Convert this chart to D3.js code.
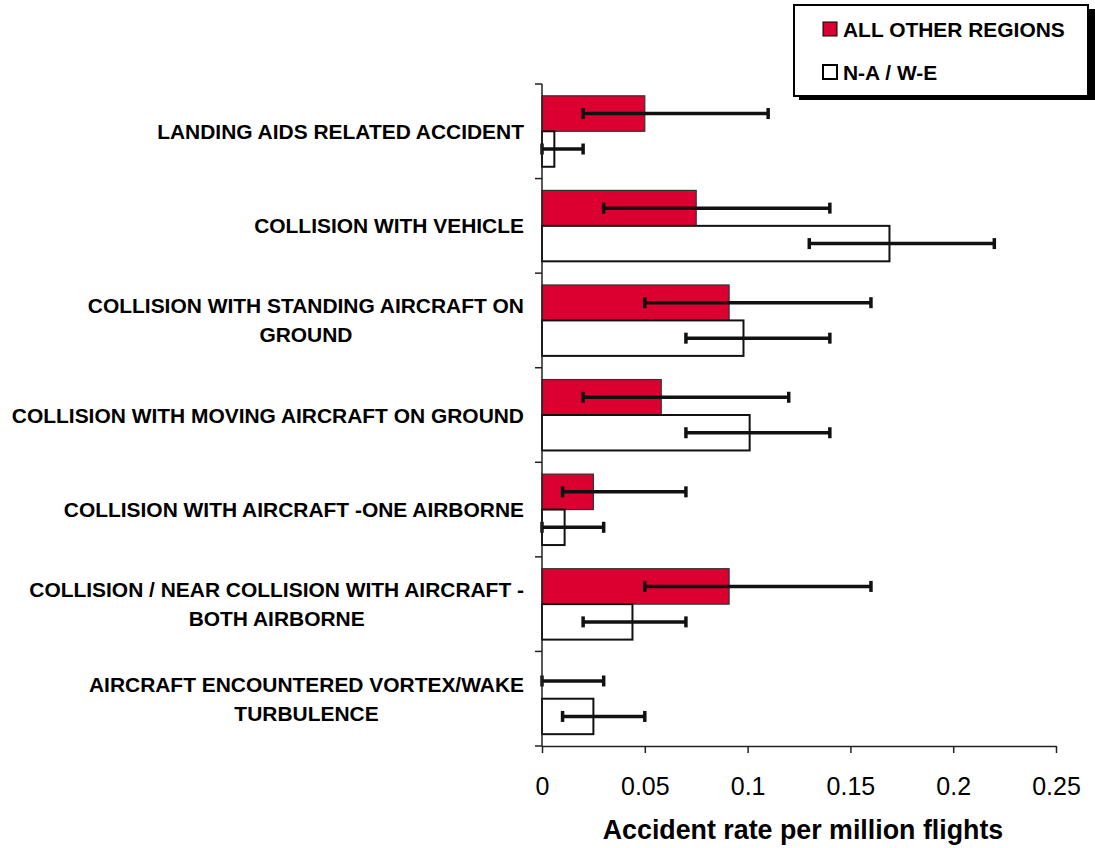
<!DOCTYPE html>
<html>
<head>
<meta charset="utf-8">
<script src="https://cdn.jsdelivr.net/npm/d3@7"></script>
<style>
  html, body { margin: 0; padding: 0; background: #fff; }
  svg { display: block; font-family: "Liberation Sans", Arial, sans-serif; }
</style>
</head>
<body>
<svg id="chart" width="1095" height="848"></svg>
<script>
// Accident categories (line breaks mark wrapped labels)
const categories = [
  "LANDING AIDS RELATED ACCIDENT",
  "COLLISION WITH VEHICLE",
  "COLLISION WITH STANDING AIRCRAFT ON\nGROUND",
  "COLLISION WITH MOVING AIRCRAFT ON GROUND",
  "COLLISION WITH AIRCRAFT -ONE AIRBORNE",
  "COLLISION / NEAR COLLISION WITH AIRCRAFT -\nBOTH AIRBORNE",
  "AIRCRAFT ENCOUNTERED VORTEX/WAKE\nTURBULENCE"
];

const seriesNames = ["ALL OTHER REGIONS", "N-A / W-E"];

// Accident rate per million flights, with lower / upper error limits
const otherRegions     = [0.050, 0.075, 0.091, 0.058, 0.025, 0.091, 0.000];
const otherRegionsLow  = [0.020, 0.030, 0.050, 0.020, 0.010, 0.050, 0.000];
const otherRegionsHigh = [0.110, 0.140, 0.160, 0.120, 0.070, 0.160, 0.030];

const naWe     = [0.006, 0.169, 0.098, 0.101, 0.011, 0.044, 0.025];
const naWeLow  = [0.000, 0.130, 0.070, 0.070, 0.000, 0.020, 0.010];
const naWeHigh = [0.020, 0.220, 0.140, 0.140, 0.030, 0.070, 0.050];

const xTicks = [0, 0.05, 0.1, 0.15, 0.2, 0.25];
const xTickLabels = ["0", "0.05", "0.1", "0.15", "0.2", "0.25"];
const xTitle = "Accident rate per million flights";

const RED = "#dc0030";
const INK = "#111";
const LABEL_SIZE = 20.95;

const rows = categories.map((c, i) => ({
  cat: c,
  bars: [
    { key: seriesNames[0], v: otherRegions[i], lo: otherRegionsLow[i], hi: otherRegionsHigh[i] },
    { key: seriesNames[1], v: naWe[i], lo: naWeLow[i], hi: naWeHigh[i] }
  ]
}));

const svg = d3.select("#chart");

const x = d3.scaleLinear().domain([0, 0.25]).range([542, 1056]);
const y = d3.scaleBand().domain(categories).range([84, 746])
  .paddingInner(0.25).paddingOuter(0.125);
const ySub = d3.scaleBand().domain(seriesNames).range([0, y.bandwidth()]);

const plotBottom = 746, plotTop = 84;

// Bars
const groups = svg.append("g").selectAll("g").data(rows).join("g")
  .attr("transform", d => `translate(0,${y(d.cat)})`);

groups.selectAll("rect").data(d => d.bars).join("rect")
  .attr("x", x(0))
  .attr("y", d => ySub(d.key))
  .attr("width", d => x(d.v) - x(0))
  .attr("height", ySub.bandwidth())
  .attr("fill", d => d.key === seriesNames[0] ? RED : "#fff")
  .attr("stroke", d => d.key === seriesNames[0] ? "#333" : INK)
  .attr("stroke-width", d => d.key === seriesNames[0] ? 1.2 : 2)
  .attr("display", d => d.v > 0 ? null : "none");

// Error bars
const err = groups.selectAll("g.err").data(d => d.bars).join("g").attr("class", "err")
  .attr("transform", d => `translate(0,${ySub(d.key) + ySub.bandwidth() / 2})`);
err.append("line")
  .attr("x1", d => x(d.lo)).attr("x2", d => x(d.hi))
  .attr("stroke", INK).attr("stroke-width", 3.5);
err.selectAll("line.cap").data(d => [d.lo, d.hi]).join("line").attr("class", "cap")
  .attr("x1", v => x(v)).attr("x2", v => x(v))
  .attr("y1", -5.5).attr("y2", 5.5)
  .attr("stroke", INK).attr("stroke-width", 3.5);

// Category axis
const yAxis = svg.append("g");
yAxis.append("line")
  .attr("x1", x(0)).attr("x2", x(0)).attr("y1", plotTop).attr("y2", plotBottom)
  .attr("stroke", "#222").attr("stroke-width", 1.5);
const bounds = categories.map(c => y(c) - y.step() * y.paddingInner() / 2).concat([plotBottom]);
yAxis.selectAll("line.tick").data(bounds).join("line").attr("class", "tick")
  .attr("x1", x(0) - 7).attr("x2", x(0)).attr("y1", d => d).attr("y2", d => d)
  .attr("stroke", "#222").attr("stroke-width", 1.5);

// Category labels: wrapped lines are centred on each other, block right-aligned
const labelRight = 524, lineGap = 29;
categories.forEach(c => {
  const lines = c.split("\n");
  const cy = y(c) + y.bandwidth() / 2;
  const g = svg.append("g");
  const texts = lines.map((ln, j) => g.append("text")
    .attr("y", cy + (j - (lines.length - 1) / 2) * lineGap)
    .attr("dy", "0.36em")
    .attr("font-size", LABEL_SIZE).attr("font-weight", "bold").attr("fill", "#000")
    .attr("text-anchor", "middle")
    .text(ln));
  const maxW = d3.max(texts, t => t.node().getComputedTextLength());
  texts.forEach(t => t.attr("x", labelRight - maxW / 2));
});

// Value axis
const xAxisG = svg.append("g").attr("transform", `translate(0,${plotBottom})`)
  .call(d3.axisBottom(x).tickValues(xTicks).tickSize(7).tickSizeOuter(0)
    .tickFormat((d, i) => xTickLabels[i]));
xAxisG.select(".domain").attr("stroke", "#222").attr("stroke-width", 1.5);
xAxisG.selectAll(".tick line").attr("stroke", "#222").attr("stroke-width", 1.5);
xAxisG.selectAll(".tick text")
  .attr("y", 49).attr("dy", 0)
  .attr("font-size", 25).attr("font-family", "Liberation Sans, Arial, sans-serif")
  .attr("fill", "#000");

svg.append("text")
  .attr("x", (x(0) + x(0.25)) / 2 + 4).attr("y", 839)
  .attr("text-anchor", "middle")
  .attr("font-size", 26.8).attr("font-weight", "bold").attr("fill", "#000")
  .text(xTitle);

// Legend with drop shadow
const lg = svg.append("g");
lg.append("rect").attr("x", 799).attr("y", 9).attr("width", 296).attr("height", 91).attr("fill", "#000");
lg.append("rect").attr("x", 794).attr("y", 5).attr("width", 294).attr("height", 91)
  .attr("fill", "#fff").attr("stroke", "#000").attr("stroke-width", 2);
const items = lg.selectAll("g.item").data(seriesNames).join("g").attr("class", "item")
  .attr("transform", (d, i) => `translate(823,${29 + i * 43})`);
items.append("rect")
  .attr("x", 0).attr("y", -7).attr("width", 14).attr("height", 14)
  .attr("fill", (d, i) => i === 0 ? RED : "#fff")
  .attr("stroke", "#000").attr("stroke-width", (d, i) => i === 0 ? 1 : 2);
items.append("text")
  .attr("x", 20).attr("y", 0).attr("dy", "0.36em")
  .attr("font-size", LABEL_SIZE).attr("font-weight", "bold").attr("fill", "#000")
  .text(d => d);
</script>
</body>
</html>
